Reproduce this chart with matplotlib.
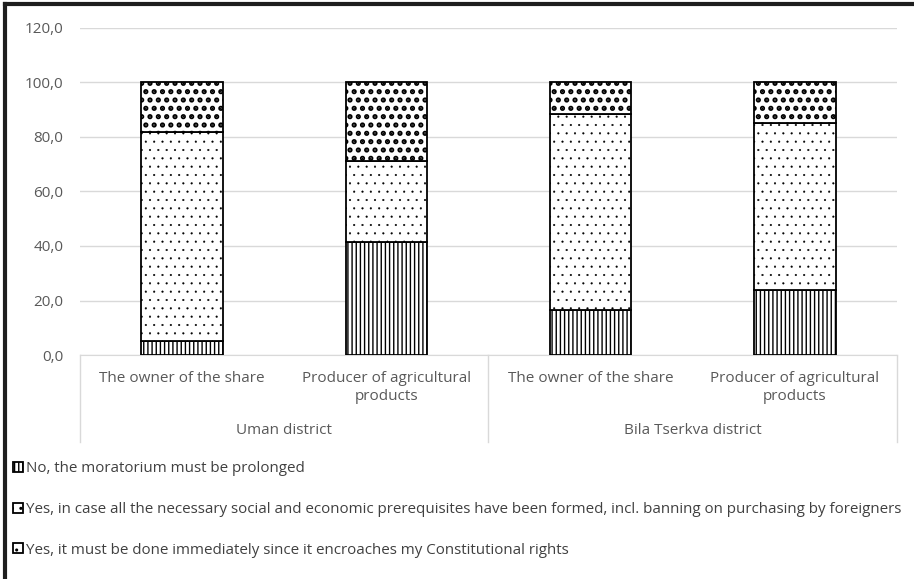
import matplotlib
matplotlib.use("Agg")
import matplotlib.pyplot as plt
from matplotlib import font_manager as fm
from matplotlib.lines import Line2D
from matplotlib.ticker import FuncFormatter

# survey shares, % of respondents
groups = ["Uman district", "Bila Tserkva district"]
categories = ["The owner of the share", "Producer of agricultural\nproducts",
              "The owner of the share", "Producer of agricultural\nproducts"]
answers = [
    "No, the moratorium must be prolonged",
    "Yes, in case all the necessary social and economic prerequisites have been formed, incl. banning on purchasing by foreigners",
    "Yes, it must be done immediately since it encroaches my Constitutional rights",
]
no_prolong = [5.3, 41.3, 16.5, 23.8]
yes_conditional = [76.6, 30.0, 71.8, 61.2]
yes_now = [18.1, 28.7, 11.7, 15.0]

installed = {f.name for f in fm.fontManager.ttflist}
main_font = "Open Sans" if "Open Sans" in installed else "DejaVu Sans"
plt.rcParams["font.family"] = [main_font, "DejaVu Sans"]


def hatched_bar(ax, x, vals, bottom, hatch, hlw, label):
    with plt.rc_context({"hatch.linewidth": hlw}):
        bars = ax.bar(x, vals, 0.4, bottom=bottom, color="white", edgecolor="black",
                      linewidth=1.3, hatch=hatch, label=label, zorder=3)
    for b in bars:
        if hasattr(b, "set_hatch_linewidth"):
            b.set_hatch_linewidth(hlw)
    return bars


fig = plt.figure(figsize=(9.14, 5.79), dpi=100)
ax = fig.add_axes([0.0875, 0.3867, 0.8939, 0.5655])

x = list(range(len(categories)))
series = [(no_prolong, "||||", 1.0), (yes_conditional, "..", 0.3), (yes_now, "..", 2.5)]
bottom = [0.0] * len(x)
handles = []
for (vals, hatch, hlw), label in zip(series, answers):
    handles.append(hatched_bar(ax, x, vals, bottom, hatch, hlw, label))
    bottom = [b + v for b, v in zip(bottom, vals)]

ax.set_xlim(-0.5, len(x) - 0.5)
ax.set_ylim(0, 120)
ax.set_yticks(range(0, 121, 20))
ax.yaxis.set_major_formatter(FuncFormatter(lambda v, _: f"{v:.1f}".replace(".", ",")))
ax.tick_params(axis="y", length=0, pad=12, labelsize=11, labelcolor="#595959")
ax.set_xticks([])
ax.grid(axis="y", color="#d9d9d9", linewidth=1, zorder=0)
for side in ["left", "right", "top"]:
    ax.spines[side].set_visible(False)
ax.spines["bottom"].set_color("#d9d9d9")

# two-level category axis
trans = ax.get_xaxis_transform()
for xi, cat in zip(x, categories):
    ax.text(xi, -0.049, cat, transform=trans, ha="center", va="top",
            fontsize=11, color="#595959", linespacing=1.3)
for gi, grp in enumerate(groups):
    ax.text(gi * 2 + 0.5, -0.229, grp, transform=trans, ha="center", va="center",
            fontsize=11, color="#595959")
for sx in [-0.5, 1.5, 3.5]:
    ax.add_line(Line2D([sx, sx], [0, -0.266], transform=trans, color="#d9d9d9",
                       linewidth=1, clip_on=False))

leg = fig.legend(handles=handles, labels=answers, loc="upper left",
                 bbox_to_anchor=(0.008, 0.214), frameon=False, fontsize=10.9,
                 handlelength=0.65, handleheight=0.65, handletextpad=0.2,
                 labelspacing=1.7, borderaxespad=0)
for t in leg.get_texts():
    t.set_color("#404040")

# dark frame along the top and left edges
fig.add_artist(Line2D([0.005, 1.0], [0.993, 0.993], color="#1e1e1e", linewidth=3))
fig.add_artist(Line2D([0.005, 0.005], [0.0, 0.993], color="#1e1e1e", linewidth=3))

fig.savefig("out.png", dpi=100)
